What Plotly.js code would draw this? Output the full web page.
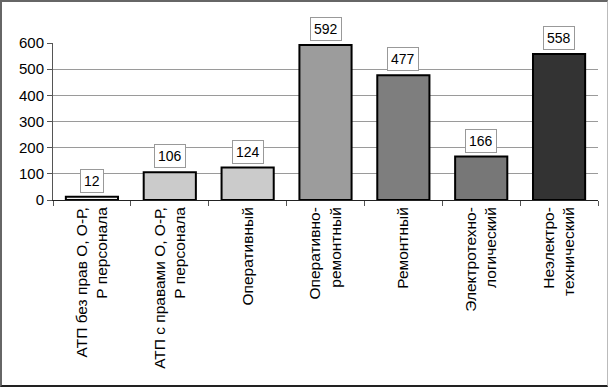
<!DOCTYPE html>
<html>
<head>
<meta charset="utf-8">
<script src="https://cdn.plot.ly/plotly-3.0.1.min.js"></script>
<style>
  html, body { margin: 0; padding: 0; background: #fff; }
  #wrap { position: relative; width: 608px; height: 387px; }
  #chart { position: absolute; left: 0; top: 0; width: 608px; height: 387px; }
  #frame { position: absolute; left: 0; top: 0; width: 608px; height: 387px; box-sizing: border-box;
           border-left: 2px solid #666; border-top: 2px solid #666; border-bottom: 2px solid #222; border-right: 1px solid #bbb;
           pointer-events: none; }
</style>
</head>
<body>
<div id="wrap"><div id="chart"></div><div id="frame"></div></div>
<script>
const categories = [
  "АТП без прав О, О-Р,<br>Р персонала",
  "АТП с правами О, О-Р,<br>Р персонала",
  "Оперативный",
  "Оперативно-<br>ремонтный",
  "Ремонтный",
  "Электротехно-<br>логический",
  "Неэлектро-<br>технический"
];
const values = [12, 106, 124, 592, 477, 166, 558];
const barColors = ["#f0f0f0", "#cbcbcb", "#cbcbcb", "#9c9c9c", "#7e7e7e", "#777777", "#333333"];
const yTicks = [0, 100, 200, 300, 400, 500, 600];

const trace = {
  type: "bar",
  x: categories,
  y: values,
  marker: { color: barColors, line: { color: "#000", width: 2 } },
  hoverinfo: "skip"
};

const annotations = values.map((v, i) => ({
  x: categories[i], y: v, xref: "x", yref: "y",
  text: String(v), showarrow: false, yanchor: "bottom", yshift: 4,
  bgcolor: "#fff", bordercolor: "#999", borderwidth: 1, borderpad: 3,
  font: { family: "Liberation Sans, Arial, sans-serif", size: 14, color: "#000" }
}));

const layout = {
  width: 608, height: 387,
  margin: { l: 53, r: 10, t: 43, b: 187 },
  paper_bgcolor: "#fff", plot_bgcolor: "#fff",
  bargap: 0.33,
  showlegend: false,
  font: { family: "Liberation Sans, Arial, sans-serif", color: "#000" },
  xaxis: {
    type: "category",
    tickangle: -90,
    tickfont: { size: 15.5, family: "Liberation Sans, Arial, sans-serif", color: "#000" },
    showline: true, linecolor: "#222", linewidth: 1,
    ticks: "outside", tickson: "boundaries", ticklen: 5, tickcolor: "#555",
    showgrid: false, zeroline: false
  },
  yaxis: {
    range: [0, 600],
    tickvals: yTicks,
    ticktext: yTicks.map(String),
    tickfont: { size: 15, family: "Liberation Sans, Arial, sans-serif", color: "#000" },
    showline: true, linecolor: "#555", linewidth: 1,
    ticks: "outside", ticklen: 5, tickcolor: "#555",
    showgrid: true, gridcolor: "#9a9a9a", gridwidth: 1,
    zeroline: false
  },
  annotations: annotations
};

Plotly.newPlot("chart", [trace], layout, { staticPlot: true, displayModeBar: false });
</script>
</body>
</html>
